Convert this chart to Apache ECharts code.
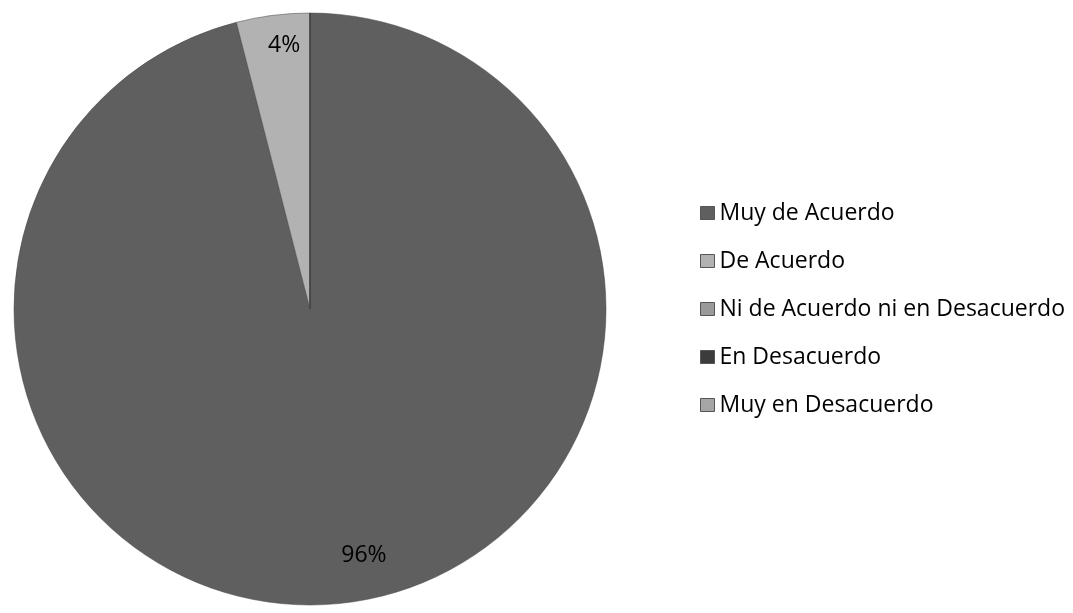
<!DOCTYPE html>
<html>
<head>
<meta charset="utf-8">
<script src="https://cdn.jsdelivr.net/npm/echarts@6/dist/echarts.min.js"></script>
<style>
  html, body { margin: 0; padding: 0; background: #fff; }
  #chart { width: 1073px; height: 613px; }
</style>
</head>
<body>
<div id="chart"></div>
<script>
// categorias y porcentajes
const categorias = ['Muy de Acuerdo', 'De Acuerdo', 'Ni de Acuerdo ni en Desacuerdo', 'En Desacuerdo', 'Muy en Desacuerdo']
const valores = [96, 4, 0, 0, 0]
const colores = ['#5f5f5f', '#b2b2b2', '#9a9a9a', '#3c3c3c', '#a6a6a6']
// posicion de las etiquetas (Excel las pone cerca del borde)
const offsets = [[35, 97], [-7, -114], [0, 0], [0, 0], [0, 0]]

const chart = echarts.init(document.getElementById('chart'))

const datos = categorias.map((c, i) => ({
  name: c,
  value: valores[i],
  itemStyle: { color: colores[i] },
  label: { show: valores[i] > 0, offset: offsets[i] }
}))

chart.setOption({
  animation: false,
  legend: {
    orient: 'vertical',
    left: 700,
    top: 201,
    padding: 0,
    itemWidth: 14,
    itemHeight: 13,
    itemGap: 24,
    icon: 'rect',
    data: categorias,
    itemStyle: { borderColor: '#555', borderWidth: 1 },
    textStyle: {
      fontFamily: 'Open Sans',
      fontSize: 23,
      color: '#000',
      lineHeight: 24
    }
  },
  series: [{
    type: 'pie',
    center: [310, 309],
    radius: [0, 296],
    startAngle: 90,
    clockwise: true,
    avoidLabelOverlap: false,
    data: datos,
    itemStyle: {
      borderColor: '#444',
      borderWidth: 0.5
    },
    label: {
      position: 'inside',
      formatter: '{d}%',
      fontFamily: 'Open Sans',
      fontSize: 23,
      color: '#000'
    },
    labelLine: { show: false },
    emphasis: { disabled: true }
  }]
})
</script>
</body>
</html>
